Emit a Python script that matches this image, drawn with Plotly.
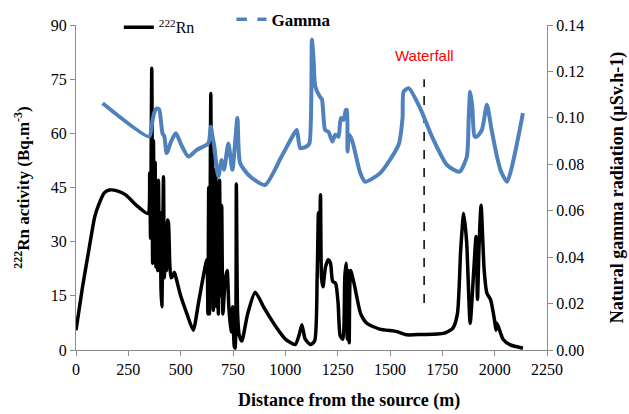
import plotly.graph_objects as go

# ---- data ----
rn_x = [0, 30, 64, 90, 111, 135, 159, 200, 239, 290, 343,
        352, 356, 362, 366, 370, 374, 378, 382, 386, 390, 394, 398, 402, 406, 410, 414, 418, 422,
        428, 432, 438, 442, 448, 454, 462, 470, 478, 500, 530, 560, 585, 610, 625,
        630, 634, 638, 644, 648, 652, 656, 660, 664, 668, 672, 676, 680, 686, 690, 696, 702,
        712, 722, 730, 740, 748, 756, 760, 766, 772, 780, 792, 820, 856, 900, 960, 1000,
        1047, 1065, 1079, 1095, 1120, 1140, 1152, 1158, 1162, 1168, 1173, 1180, 1192, 1205,
        1216, 1226, 1240, 1252, 1262, 1275, 1284, 1290, 1296, 1300, 1305, 1312, 1330, 1360,
        1389, 1450, 1533, 1581, 1650, 1756, 1800, 1822, 1838, 1852, 1866, 1883, 1900, 1911,
        1918, 1925, 1935, 1950, 1963, 1980, 2000, 2006, 2011, 2040, 2075, 2135]
rn_y = [5.5, 17, 28.6, 37, 40.6, 43.5, 44.3, 44, 42.9, 40, 37.8,
        49, 31, 78, 24, 58, 30, 52, 23, 40, 22, 47, 26, 38, 17, 12, 30, 48, 20,
        33, 22, 36, 35, 24, 20, 20.5, 21.5, 20, 15, 10, 5.5, 13, 21, 25,
        10, 45, 10, 71, 15, 54, 11, 48, 20, 50, 12, 44, 10, 47, 15, 40, 10,
        19, 22, 12, 5, 12, 1, 0.5, 46, 10, 4, 2.5, 10, 16, 11.5, 6, 3,
        1.5, 4, 7, 3, 1.5, 2.5, 20, 38, 25, 43, 20, 17.5, 23, 25,
        24, 19, 18.5, 13, 4, 3, 20, 24, 3, 22, 2, 22, 18, 10,
        7.4, 5.8, 5.1, 4.2, 4.3, 4.6, 6, 10, 28, 37.8, 30, 7.4, 22, 31.4,
        14, 28, 40.1, 22, 15.7, 14, 8, 5.5, 7.4, 3, 1.4, 0.5]

gamma_x = [127, 350, 362, 373, 385, 397, 413, 422, 433, 455, 477, 505, 537, 577, 632, 644,
           652, 661, 670, 680, 696, 707, 728, 747, 771, 784, 832, 903, 980, 1040, 1055,
           1071, 1099, 1115, 1127, 1135, 1143, 1166, 1175, 1190, 1206, 1225, 1238, 1254,
           1265, 1278, 1289, 1294, 1297, 1305, 1320, 1358, 1381, 1453, 1541, 1560, 1565,
           1589, 1644, 1700, 1772, 1832, 1867, 1876, 1883, 1893, 1904, 1915, 1939, 1963,
           1985, 2011, 2030, 2059, 2135]
gamma_y = [0.1063, 0.0919, 0.097, 0.102, 0.104, 0.1037, 0.0934, 0.092, 0.0848, 0.090,
           0.0934, 0.088, 0.0833, 0.0862, 0.089, 0.0962, 0.092, 0.0876, 0.080, 0.0747,
           0.0819, 0.0776, 0.089, 0.0776, 0.0999, 0.0805, 0.0747, 0.0711, 0.083, 0.093,
           0.0948, 0.087, 0.0876, 0.089, 0.1336, 0.125, 0.1135, 0.109, 0.108, 0.0948,
           0.094, 0.0898, 0.0927, 0.0919, 0.0999, 0.0991, 0.1034, 0.1034, 0.0855, 0.0927,
           0.090, 0.0762, 0.0725, 0.0762, 0.0884, 0.100, 0.1113, 0.1128, 0.1042, 0.092,
           0.0797, 0.0768, 0.0833, 0.100, 0.1113, 0.105, 0.092, 0.0919, 0.0948, 0.1056,
           0.095, 0.0833, 0.077, 0.0725, 0.102]

waterfall_x = 1663
waterfall_y = [13, 75]
waterfall_label = "Waterfall"

FONT = "Liberation Serif"
BLUE = "#4f81bd"
AXIS = "#8c8c8c"

fig = go.Figure()

fig.add_trace(go.Scatter(x=rn_x, y=rn_y, mode="lines", showlegend=False,
                         line=dict(color="black", width=3.5, shape="spline", smoothing=0.6)))
fig.add_trace(go.Scatter(x=gamma_x, y=gamma_y, mode="lines", yaxis="y2", showlegend=False,
                         line=dict(color=BLUE, width=4, shape="spline", smoothing=0.6)))
fig.add_trace(go.Scatter(x=[waterfall_x, waterfall_x], y=waterfall_y, mode="lines",
                         showlegend=False, line=dict(color="black", width=1.5, dash="dash")))

# legend entries
fig.add_trace(go.Scatter(x=[None], y=[None], mode="lines", name="<sup>222</sup>Rn",
                         line=dict(color="black", width=3.5), legend="legend"))
fig.add_trace(go.Scatter(x=[None], y=[None], mode="lines", name="<b>Gamma</b>",
                         line=dict(color=BLUE, width=3.5, dash="dash"), legend="legend2"))

fig.add_annotation(x=waterfall_x, y=81.5, text=waterfall_label, showarrow=False,
                   font=dict(family="Arial", size=15, color="#ff0000"))

# x-axis title (offset to the right, as in the original)
fig.add_annotation(x=0.58, y=-0.154, xref="paper", yref="paper",
                   text="<b>Distance from the source (m)</b>", showarrow=False,
                   xanchor="center", yanchor="middle", font=dict(size=18))

fig.update_layout(
    width=629, height=414,
    margin=dict(l=76, r=82, t=25, b=64, autoexpand=False),
    paper_bgcolor="white", plot_bgcolor="white",
    font=dict(family=FONT, size=16, color="black"),
    xaxis=dict(range=[0, 2250], dtick=250, tick0=0, showgrid=False, zeroline=False,
               showline=True, linecolor=AXIS, linewidth=1.3, ticks="outside",
               ticklen=5, tickcolor=AXIS, tickfont=dict(size=16)),
    yaxis=dict(range=[0, 90], dtick=15, showgrid=False, zeroline=False,
               showline=True, linecolor=AXIS, linewidth=1.3, ticks="outside",
               ticklen=5, tickcolor=AXIS, tickfont=dict(size=16),
               title=dict(text="<b><sup>222</sup>Rn activity (Bq.m<sup>-3</sup>)</b>",
                          standoff=16, font=dict(size=17))),
    yaxis2=dict(range=[0, 0.14], dtick=0.02, tickformat=".2f", overlaying="y", side="right",
                showgrid=False, zeroline=False, showline=True, linecolor=AXIS, linewidth=1.3,
                ticks="outside", ticklen=5, tickcolor=AXIS, tickfont=dict(size=16),
                title=dict(text="<b>Natural gamma radiation (µSv.h-1)</b>", standoff=27,
                           font=dict(size=18))),
    legend=dict(x=0.091, y=0.993, xanchor="left", yanchor="middle", orientation="h",
                bgcolor="rgba(0,0,0,0)", font=dict(size=16), itemwidth=30),
    legend2=dict(x=0.33, y=1.016, xanchor="left", yanchor="middle", orientation="h",
                 bgcolor="rgba(0,0,0,0)", font=dict(size=17), itemwidth=30),
)

fig.write_html("out.html", config={"displayModeBar": False},
               post_script="document.body.style.margin='0';")
